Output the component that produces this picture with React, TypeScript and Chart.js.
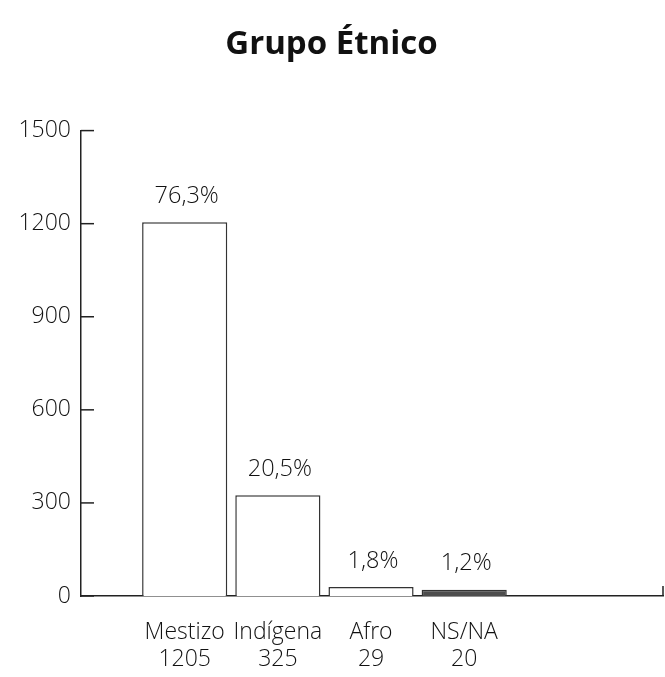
import React, { useEffect, useRef } from "react";
import { Chart, registerables } from "chart.js";

Chart.register(...registerables);

const chartTitle = "Grupo Étnico";
const categories = ["Mestizo", "Indígena", "Afro", "NS/NA"];
const counts = [1205, 325, 29, 20];
const percents = ["76,3%", "20,5%", "1,8%", "1,2%"];
const yTicks = [0, 300, 600, 900, 1200, 1500];
const barFills = ["#ffffff", "#ffffff", "#ffffff", "#4d4d4d"];

const FONT = "'Open Sans', 'Noto Sans', sans-serif";

export default function App() {
  const ref = useRef<HTMLCanvasElement | null>(null);

  useEffect(() => {
    if (!ref.current) return;
    const decor = {
      id: "decor",
      afterDatasetsDraw(chart: any) {
        const ctx = chart.ctx;
        const ys = chart.scales.y;
        const xs = chart.scales.x;
        ctx.save();
        ctx.strokeStyle = "#222";
        ctx.lineWidth = 1.5;
        // inward tick marks on y axis
        yTicks.forEach((v) => {
          const py = ys.getPixelForValue(v);
          ctx.beginPath();
          ctx.moveTo(xs.left, py);
          ctx.lineTo(xs.left + 13, py);
          ctx.stroke();
        });
        // right end mark of x axis
        ctx.beginPath();
        ctx.moveTo(xs.right, ys.bottom);
        ctx.lineTo(xs.right, ys.bottom - 10);
        ctx.stroke();
        // percentage labels
        const meta = chart.getDatasetMeta(0);
        ctx.fillStyle = "#111";
        ctx.font = `300 23.5px ${FONT}`;
        ctx.textAlign = "center";
        ctx.textBaseline = "middle";
        meta.data.forEach((bar: any, i: number) => {
          ctx.fillText(percents[i], bar.x + 2, bar.y - 26);
        });
        ctx.restore();
      },
    };

    const chart = new Chart(ref.current, {
      type: "bar",
      data: {
        datasets: [
          {
            data: counts.map((c, i) => ({ x: i + 1, y: c })),
            backgroundColor: barFills,
            borderColor: "#333",
            borderWidth: 1.5,
            barPercentage: 0.914,
            categoryPercentage: 1,
          },
        ],
      },
      options: {
        animation: false,
        responsive: false,
        layout: { padding: { left: 0, right: 2, top: 0, bottom: 0 } },
        plugins: {
          legend: { display: false },
          tooltip: { enabled: false },
          title: {
            display: true,
            text: chartTitle,
            color: "#111",
            font: { family: FONT, size: 33, weight: "bold" },
            padding: { top: 25, bottom: 66 },
          },
        },
        scales: {
          x: {
            type: "linear",
            min: -0.113,
            max: 6.134,
            offset: false,
            grid: { display: false, drawTicks: false },
            border: { display: true, color: "#222", width: 1.5 },
            afterBuildTicks: (scale: any) => {
              scale.ticks = categories.map((_, i) => ({ value: i + 1 }));
            },
            afterFit: (scale: any) => {
              scale.height = 81;
            },
            ticks: {
              autoSkip: false,
              maxRotation: 0,
              padding: 23,
              color: "#111",
              font: { family: FONT, size: 23, weight: "300", lineHeight: 1.18 },
              callback: (v: any) => {
                const i = Math.round(Number(v)) - 1;
                return [categories[i], String(counts[i])];
              },
            },
          },
          y: {
            min: 0,
            max: 1500,
            grid: { display: false, drawTicks: false },
            border: { display: true, color: "#222", width: 1.5 },
            afterBuildTicks: (scale: any) => {
              scale.ticks = yTicks.map((v) => ({ value: v }));
            },
            afterFit: (scale: any) => {
              scale.width = 81;
            },
            ticks: {
              padding: 10,
              color: "#111",
              font: { family: FONT, size: 23, weight: "300" },
              callback: (v: any) => String(v),
            },
          },
        },
      },
      plugins: [decor],
    } as any);
    return () => chart.destroy();
  }, []);

  return (
    <div style={{ position: "fixed", left: 0, top: 0, width: 665, height: 677, background: "#fff" }}>
      <canvas ref={ref} width={665} height={677} />
    </div>
  );
}
